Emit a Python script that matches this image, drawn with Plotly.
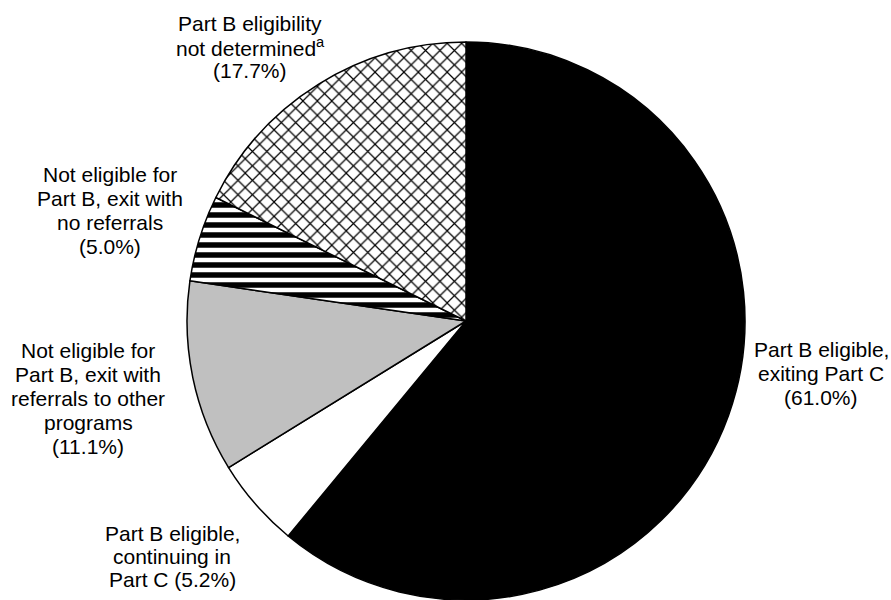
import plotly.graph_objects as go

# ---- data ----
categories = [
    "Part B eligible, exiting Part C",
    "Part B eligible, continuing in Part C",
    "Not eligible for Part B, exit with referrals to other programs",
    "Not eligible for Part B, exit with no referrals",
    "Part B eligibility not determined",
]
shares = [61.0, 5.2, 11.1, 5.0, 17.7]
label_lines = [
    ["Part B eligible,", "exiting Part C", "(61.0%)"],
    ["Part B eligible,", "continuing in", "Part C (5.2%)"],
    ["Not eligible for", "Part B, exit with", "referrals to other", "programs", "(11.1%)"],
    ["Not eligible for", "Part B, exit with", "no referrals", "(5.0%)"],
    ["Part B eligibility", "not determined<sup>a</sup>", "(17.7%)"],
]

# ---- styles ----
W, H = 891, 600
fill_colors = ["#000000", "#ffffff", "#c0c0c0", "#ffffff", "#ffffff"]
pattern_shapes = ["", "", "", "-", "x"]
# label anchor (center x px, first-line center y px, line spacing px)
label_pos = [
    (821, 349, 24),
    (172, 533, 23),
    (88, 350, 24),
    (110, 174, 24.3),
    (250, 23, 23.5),
]

pie_top = 42
cx = 466
r = (H - pie_top) / 2

fig = go.Figure(
    go.Pie(
        labels=categories,
        values=shares,
        sort=False,
        direction="clockwise",
        rotation=0,
        textinfo="none",
        hoverinfo="label+percent",
        showlegend=False,
        marker=dict(
            colors=fill_colors,
            line=dict(color="#000000", width=1.5),
            pattern=dict(
                shape=pattern_shapes,
                fgcolor="#000000",
                size=[8, 8, 8, 10, 10.2],
                solidity=[0.3, 0.3, 0.3, 0.55, 0.22],
            ),
        ),
        domain=dict(
            x=[(cx - r - 5) / W, (cx + r + 5) / W],
            y=[0, 1 - pie_top / H],
        ),
    )
)

annotations = []
for lines, (px, py, sp) in zip(label_lines, label_pos):
    for i, line in enumerate(lines):
        annotations.append(
            dict(
                x=px / W,
                y=1 - (py + i * sp) / H,
                xref="paper",
                yref="paper",
                text=line,
                showarrow=False,
                xanchor="center",
                yanchor="middle",
                font=dict(family="Liberation Sans, Arial, sans-serif", size=21, color="#000000"),
            )
        )

fig.update_layout(
    width=W,
    height=H,
    margin=dict(l=0, r=0, t=0, b=0),
    paper_bgcolor="#ffffff",
    plot_bgcolor="#ffffff",
    annotations=annotations,
)

fig.write_html("out.html")
